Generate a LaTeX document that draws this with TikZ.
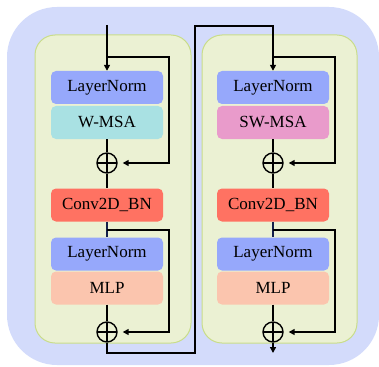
\documentclass[tikz,border=0pt]{standalone}
\usepackage{fontspec}
\setmainfont{Liberation Serif}
\usetikzlibrary{arrows.meta}
\definecolor{bgblue}{HTML}{D3DBFB}
\definecolor{panelfill}{HTML}{EBF1D3}
\definecolor{panelline}{HTML}{C9DD8A}
\definecolor{lncol}{HTML}{96A8FB}
\definecolor{wmsacol}{HTML}{A9E1E3}
\definecolor{swmsacol}{HTML}{E99BCB}
\definecolor{convcol}{HTML}{FF7262}
\definecolor{mlpcol}{HTML}{FBC5AE}
\definecolor{navyline}{HTML}{14204A}
\begin{document}
\begin{tikzpicture}[x=1pt,y=-1pt,
  blk/.style={rectangle, rounded corners=5pt, minimum width=112pt, minimum height=33pt, inner sep=0pt, font=\fontsize{17}{17}\selectfont},
  oplus/.style={circle, draw, line width=1.4pt, minimum size=20pt, inner sep=0pt,
    path picture={\draw[line width=1.4pt] (path picture bounding box.north) -- (path picture bounding box.south) (path picture bounding box.west) -- (path picture bounding box.east);}},
  conn/.style={line width=1.5pt, black},
  arr/.style={conn, -{Triangle[length=6pt,width=6pt]}},
  panel/.style={fill=panelfill, draw=panelline, line width=1pt, rounded corners=20pt}]
\useasboundingbox (0,0) rectangle (379,366);
\fill[bgblue, rounded corners=50pt] (7,7) rectangle (379,365);
\path[panel] (35,35) rectangle (191,343);
\path[panel] (202,35) rectangle (357,343);
% left column
\node[blk, fill=lncol] (ln1) at (107,87.5) {LayerNorm};
\node[blk, fill=wmsacol] (wmsa) at (107,122.5) {W-MSA};
\node[oplus] (p1) at (107,163) {};
\node[blk, fill=convcol] (conv) at (107,205) {Conv2D\_BN};
\node[blk, fill=lncol] (ln2) at (107,254) {LayerNorm};
\node[blk, fill=mlpcol] (mlp) at (107,288) {MLP};
\node[oplus] (p2) at (107,332) {};
% right column
\node[blk, fill=lncol] (rln1) at (273,87.5) {LayerNorm};
\node[blk, fill=swmsacol] (swmsa) at (273,122.5) {SW-MSA};
\node[oplus] (rp1) at (273,163) {};
\node[blk, fill=convcol] (rconv) at (273,205) {Conv2D\_BN};
\node[blk, fill=lncol] (rln2) at (273,254) {LayerNorm};
\node[blk, fill=mlpcol] (rmlp) at (273,288) {MLP};
\node[oplus] (rp2) at (273,332) {};
% coordinates
\coordinate (in) at (107,25);
\coordinate (s1) at (107,57);
\coordinate (s1r) at (169,57);
\coordinate (s2) at (107,230);
\coordinate (s2r) at (169,230);
\coordinate (b1) at (107,353);
\coordinate (b2) at (195,353);
\coordinate (b3) at (195,26);
\coordinate (b4) at (273,26);
\coordinate (rs1) at (273,57);
\coordinate (rs1r) at (335,57);
\coordinate (rs2) at (273,230);
\coordinate (rs2r) at (335,230);
\coordinate (out) at (273,353);
% left connectors
\draw[arr] (in) -- (ln1.north);
\draw[arr, shorten >=5pt] (s1) -- (s1r) |- (p1.east);
\draw[conn] (wmsa.south) -- (p1.north);
\draw[conn] (p1.south) -- (conv.north);
\draw[line width=1.5pt, navyline] (conv.south) -- (ln2.north);
\draw[arr, shorten >=5pt] (s2) -- (s2r) |- (p2.east);
\draw[conn] (mlp.south) -- (p2.north);
\draw[arr] (p2.south) -- (b1) -- (b2) -- (b3) -- (b4) -- (rln1.north);
% right connectors
\draw[arr, shorten >=5pt] (rs1) -- (rs1r) |- (rp1.east);
\draw[conn] (swmsa.south) -- (rp1.north);
\draw[conn] (rp1.south) -- (rconv.north);
\draw[line width=1.5pt, navyline] (rconv.south) -- (rln2.north);
\draw[arr, shorten >=5pt] (rs2) -- (rs2r) |- (rp2.east);
\draw[conn] (rmlp.south) -- (rp2.north);
\draw[arr] (rp2.south) -- (out);
\end{tikzpicture}
\end{document}
